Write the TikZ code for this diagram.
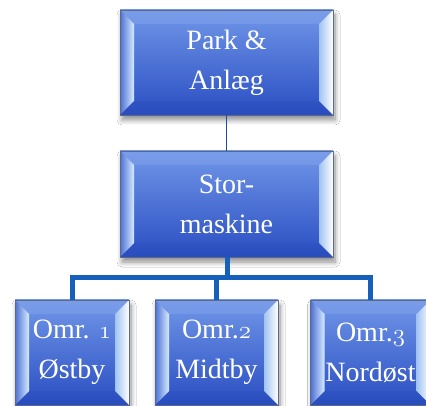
\documentclass[tikz,border=0pt]{standalone}
\usepackage{fontspec}
\setmainfont{Liberation Serif}
\usetikzlibrary{shadows.blur,calc}
% old-style figures taken from the math italic font
\newcommand{\osdig}[1]{{\fontencoding{OML}\fontfamily{cmm}\fontseries{m}\fontshape{it}\selectfont #1}}
\definecolor{boxtop}{RGB}{112,150,232}
\definecolor{boxbot}{RGB}{42,78,194}
\definecolor{boxmid}{RGB}{78,112,212}
\definecolor{bevlight}{RGB}{215,236,255}
\definecolor{bevright}{RGB}{160,195,242}
\definecolor{boxedge}{RGB}{92,104,138}
\definecolor{linkblue}{RGB}{20,96,186}
\definecolor{linkdark}{RGB}{24,78,160}
\tikzset{
  bevelbox/.style={rectangle, draw=boxedge, line width=0.8pt,
    top color=boxtop, bottom color=boxbot,
    text=white, align=center, inner sep=0pt,
    font=\fontsize{28}{40}\selectfont,
    blur shadow={shadow xshift=2pt, shadow yshift=-5pt, shadow blur steps=8, shadow opacity=45, shadow blur radius=5pt},
    path picture={
      \path (path picture bounding box.north west) coordinate (bnw)
            (path picture bounding box.north east) coordinate (bne)
            (path picture bounding box.south west) coordinate (bsw)
            (path picture bounding box.south east) coordinate (bse)
            ([xshift=14pt,yshift=-14pt]path picture bounding box.north west) coordinate (inw)
            ([xshift=-14pt,yshift=-14pt]path picture bounding box.north east) coordinate (ine)
            ([xshift=14pt,yshift=14pt]path picture bounding box.south west) coordinate (isw)
            ([xshift=-14pt,yshift=14pt]path picture bounding box.south east) coordinate (ise);
      % top and bottom bevel faces
      \fill[boxtop!80!white, opacity=0.35] (bnw) -- (bne) -- (ine) -- (inw) -- cycle;
      \fill[boxbot!90!black, opacity=0.2] (bsw) -- (bse) -- (ise) -- (isw) -- cycle;
      % left bevel face, bright towards the inside
      \shade[left color=boxmid, right color=bevlight] (bnw) -- (inw) -- (isw) -- (bsw) -- cycle;
      % right bevel face, bright towards the outside
      \shade[left color=bevright, right color=white] (bne) -- (ine) -- (ise) -- (bse) -- cycle;
    }},
  thinlink/.style={draw=linkdark, line width=1.6pt},
  buslink/.style={draw=linkblue, line width=5pt, line join=miter}
}
\begin{document}
\begin{tikzpicture}[x=1pt,y=-1pt]
  \fill[white] (0,0) rectangle (426,406);
  \useasboundingbox (0,0) rectangle (426,406);

  \node[bevelbox, minimum width=213pt, minimum height=105pt] (park) at (226.5,62.5) {Park \&\\Anlæg};
  \node[bevelbox, minimum width=213pt, minimum height=106pt] (stor) at (226.5,204) {Stor-\\maskine};

  \node[bevelbox, minimum width=114pt, minimum height=105pt] (omr1) at (72,352.5) {Omr. \osdig{1}\\Østby};
  \node[bevelbox, minimum width=123pt, minimum height=105pt] (omr2) at (216.5,352.5) {Omr.\osdig{2}\\Midtby};
  \node[bevelbox, minimum width=120pt, minimum height=105pt] (omr3) at (370.5,352.5) {Omr.\osdig{3}\\Nordøst};

  \coordinate (bus) at (227.5,277.5);
  \draw[thinlink] (park.south) -- (stor.north);
  \draw[buslink] (stor.south -| bus) -- (bus);
  \draw[buslink] (bus) -| (omr1.north);
  \draw[buslink] (bus) -| (omr2.north);
  \draw[buslink] (bus) -| (omr3.north);
\end{tikzpicture}
\end{document}
